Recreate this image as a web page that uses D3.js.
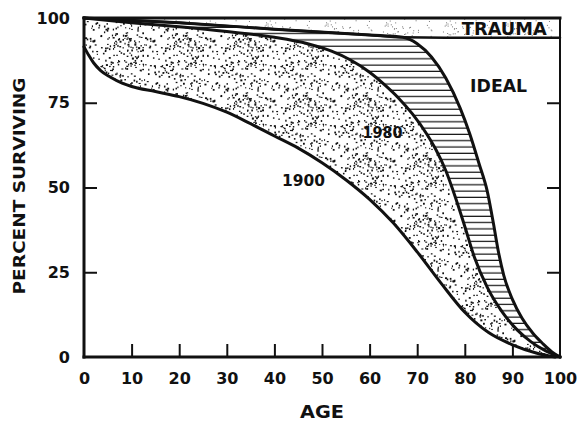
<!DOCTYPE html>
<html>
<head>
<meta charset="utf-8">
<script src="https://cdn.jsdelivr.net/npm/d3@7"></script>
<style>
body { margin: 0; background: #fff; }
text { font-family: "DejaVu Sans", sans-serif; font-weight: bold; fill: #111; }
</style>
</head>
<body>
<svg></svg>
<script>
// survival curves, [age, percent surviving]
var curve1900 = [[0,91.5],[1,89],[2,86.8],[3.5,84.5],[5.5,82.6],[8,80.8],[10,79.8],[15,78.3],[20,76.8],
    [25,74.8],[30,72.2],[35,68.8],[40,65.2],[45,61.6],[50,57.3],[55,52.3],[60,46.5],[65,39.5],[70,31],
    [75,21.8],[80,13.2],[85,7.2],[90,3.6],[95,1.2],[99,0]];
var curve1980 = [[0,100],[10,98.6],[20,97.4],[30,96],[40,94.3],[47,92.4],[52,90.2],[56,87.6],[60,84],
    [63,80.5],[66,76.5],[69,71.7],[72,65.8],[74,61],[76,55],[78,47.2],[80,38.5],[82,29.5],[84.7,20.6],
    [88,13],[91,8],[94,4.4],[97,1.8],[100,0]];
var curveIdeal = [[0,100],[20,98.6],[40,96.7],[60,95],[67,94.3],[70,92.4],[73,88.5],[76,82.3],[79,73.5],
    [81,66],[83,57],[84.7,49],[86,39.5],[87,31.5],[88.2,24],[90,17],[92,11.5],[94.3,7],[96.5,3.8],
    [98.3,1.5],[100,0]];
var curveTrauma = [[0,100],[20,98.6],[40,96.7],[60,95],[67,94.3],[80,94.2],[100,94.2]];

var xTicks = [0,10,20,30,40,50,60,70,80,90,100];
var yTicks = [0,25,50,75,100];

var screen = {width: 577, height: 421};
var margins = {top: 18, right: 17, bottom: 64, left: 84};
var width = screen.width - margins.left - margins.right;
var height = screen.height - margins.top - margins.bottom;

var svg = d3.select("svg")
    .attr("width", screen.width)
    .attr("height", screen.height);

var defs = svg.append("defs");

// texture tiles, a fixed seed so it looks the same every run
var seed = 11;
var rnd = function(){
    seed = (seed * 16807) % 2147483647;
    return seed / 2147483647;
}

var dense = defs.append("pattern")
    .attr("id", "stipple")
    .attr("patternUnits", "userSpaceOnUse")
    .attr("width", 60).attr("height", 60);
dense.append("rect").attr("width", 60).attr("height", 60).attr("fill", "#fff");
for (var i = 0; i < 215; i++) {
    dense.append("rect")
        .attr("x", rnd() * 59).attr("y", rnd() * 59)
        .attr("width", 1 + rnd() * 1.1).attr("height", 1 + rnd() * 1.1)
        .attr("fill", "#111");
}

var light = defs.append("pattern")
    .attr("id", "lightStipple")
    .attr("patternUnits", "userSpaceOnUse")
    .attr("width", 60).attr("height", 60);
light.append("rect").attr("width", 60).attr("height", 60).attr("fill", "#fff");
for (var j = 0; j < 110; j++) {
    light.append("rect")
        .attr("x", rnd() * 59).attr("y", rnd() * 59)
        .attr("width", 1).attr("height", 1)
        .attr("fill", "#777");
}

var hatch = defs.append("pattern")
    .attr("id", "hatch")
    .attr("patternUnits", "userSpaceOnUse")
    .attr("width", 10).attr("height", 6.3);
hatch.append("rect").attr("width", 10).attr("height", 6.3).attr("fill", "#fff");
hatch.append("line")
    .attr("x1", 0).attr("x2", 10).attr("y1", 3).attr("y2", 3)
    .attr("stroke", "#111").attr("stroke-width", 1.2);

defs.append("clipPath").attr("id", "plotClip")
    .append("rect").attr("width", width).attr("height", height);

var xScale = d3.scaleLinear().domain([0, 100]).range([0, width]);
var yScale = d3.scaleLinear().domain([0, 100]).range([height, 0]);

var graph = svg.append("g")
    .attr("id", "graph")
    .attr("transform", "translate(" + margins.left + "," + margins.top + ")");

var fills = graph.append("g").attr("clip-path", "url(#plotClip)");

var areaBelow = d3.area()
    .curve(d3.curveMonotoneX)
    .x(function(d){ return xScale(d[0]); })
    .y0(yScale(0))
    .y1(function(d){ return yScale(d[1]); });

var areaAbove = d3.area()
    .curve(d3.curveMonotoneX)
    .x(function(d){ return xScale(d[0]); })
    .y0(yScale(100))
    .y1(function(d){ return yScale(d[1]); });

var line = d3.line()
    .curve(d3.curveMonotoneX)
    .x(function(d){ return xScale(d[0]); })
    .y(function(d){ return yScale(d[1]); });

fills.append("path").datum(curveTrauma).attr("d", areaAbove).attr("fill", "url(#lightStipple)");
fills.append("path").datum(curveIdeal).attr("d", areaBelow).attr("fill", "url(#hatch)");
fills.append("path").datum(curve1980).attr("d", areaBelow).attr("fill", "url(#stipple)");
fills.append("path").datum(curve1900).attr("d", areaBelow).attr("fill", "#fff");

var lines = graph.append("g").attr("fill", "none").attr("stroke", "#111")
    .attr("stroke-linejoin", "round").attr("stroke-linecap", "round");
lines.append("path").datum(curveTrauma).attr("d", line).attr("stroke-width", 2.5);
lines.append("path").datum(curveIdeal).attr("d", line).attr("stroke-width", 3);
lines.append("path").datum(curve1980).attr("d", line).attr("stroke-width", 3);
lines.append("path").datum(curve1900).attr("d", line).attr("stroke-width", 3);

// axes
var xAxis = d3.axisBottom(xScale).tickValues(xTicks).tickSize(-13).tickPadding(16);
var yAxis = d3.axisLeft(yScale).tickValues(yTicks).tickSize(-13).tickPadding(14);
var yRight = d3.axisRight(yScale).tickValues([25, 50, 75]).tickSize(-13).tickFormat("");

var gx = graph.append("g").attr("transform", "translate(0," + height + ")").call(xAxis);
var gy = graph.append("g").call(yAxis);
var gr = graph.append("g").attr("transform", "translate(" + width + ",0)").call(yRight);

[gx, gy, gr].forEach(function(g){
    g.select(".domain").remove();
    g.selectAll(".tick line").attr("stroke", "#111").attr("stroke-width", 2);
    g.selectAll(".tick text").attr("font-size", 16).attr("font-family", null).attr("fill", "#111");
});
gx.selectAll(".tick").filter(function(d){ return d == 0 || d == 100; }).select("line").remove();
gy.selectAll(".tick").filter(function(d){ return d == 0 || d == 100; }).select("line").remove();

// frame
var frame = graph.append("g").attr("stroke", "#111").attr("stroke-linecap", "square");
frame.append("line").attr("x1", 0).attr("x2", 0).attr("y1", 0).attr("y2", height).attr("stroke-width", 3);
frame.append("line").attr("x1", 0).attr("x2", width).attr("y1", height).attr("y2", height).attr("stroke-width", 3);
frame.append("line").attr("x1", 0).attr("x2", width).attr("y1", 0).attr("y2", 0).attr("stroke-width", 3);
frame.append("line").attr("x1", width).attr("x2", width).attr("y1", 0).attr("y2", height).attr("stroke-width", 2);

// labels
var label = function(txt, age, pct, size, len){
    var t = graph.append("text")
        .attr("x", xScale(age)).attr("y", yScale(pct))
        .attr("text-anchor", "middle")
        .attr("font-size", size)
        .text(txt);
    if (len) t.attr("textLength", len).attr("lengthAdjust", "spacingAndGlyphs");
    return t;
}
label("TRAUMA", 88.3, 95.1, 17, 85);
label("IDEAL", 87.1, 78.3, 17, 57);
label("1980", 62.7, 64.6, 16, 40);
label("1900", 46.1, 50.4, 16, 43);

svg.append("text")
    .attr("x", margins.left + width / 2)
    .attr("y", 418)
    .attr("text-anchor", "middle")
    .attr("font-size", 17)
    .attr("textLength", 44).attr("lengthAdjust", "spacingAndGlyphs")
    .text("AGE");

svg.append("text")
    .attr("transform", "translate(25,186) rotate(-90)")
    .attr("text-anchor", "middle")
    .attr("font-size", 16)
    .attr("textLength", 217).attr("lengthAdjust", "spacingAndGlyphs")
    .text("PERCENT SURVIVING");
</script>
</body>
</html>
